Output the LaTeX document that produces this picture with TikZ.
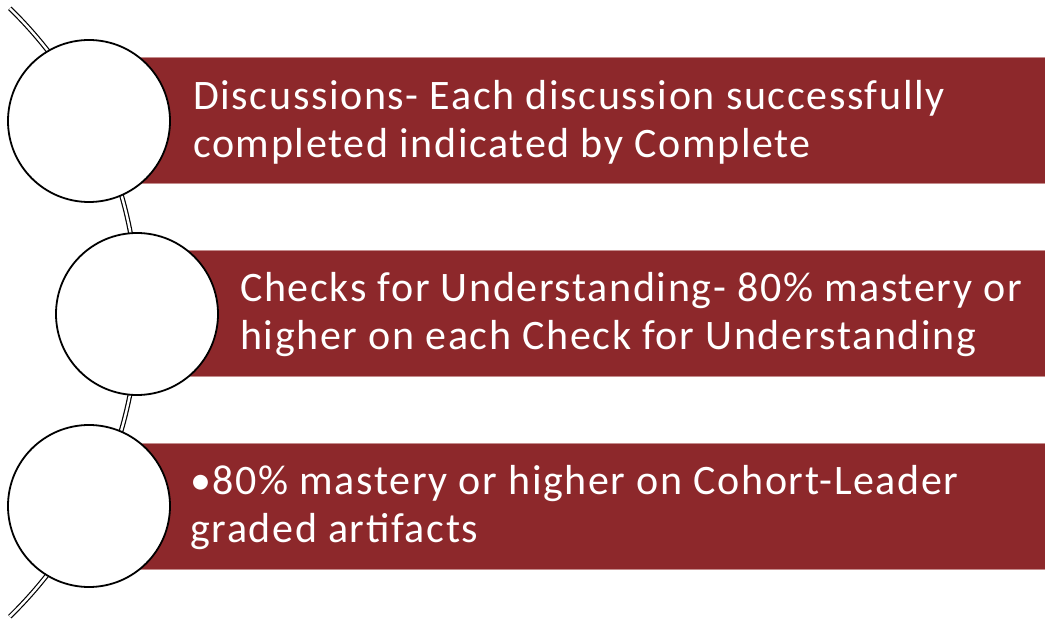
\documentclass[tikz,border=0pt]{standalone}
\usepackage{fontspec}
\setmainfont{Carlito}
\newfontfamily\bannerfont[LetterSpace=3.9]{Carlito}
\definecolor{banner}{RGB}{141,40,43}
\definecolor{bannerEdge}{RGB}{196,140,140}
\begin{document}
\begin{tikzpicture}[x=1pt,y=1pt,
  bannerbox/.style={fill=banner,draw=bannerEdge,line width=0.8pt},
  ringnode/.style={circle,fill=white,draw=black,line width=1.8pt,minimum size=162pt,inner sep=0pt},
  bannertext/.style={anchor=west,inner sep=0pt,text=white,align=left,font=\bannerfont\fontsize{42}{48}\selectfont},
  arcline/.style={draw=black,line width=1.2pt,double=white,double distance=2.4pt}]
\useasboundingbox (0,0) rectangle (1045,619);
% banners
\fill[bannerbox] (89,436) rectangle (1045,562);
\fill[bannerbox] (137,243) rectangle (1045,369);
\fill[bannerbox] (89,50) rectangle (1045,176);
% arc connector
\coordinate (arcTop) at (9.8,610.7);
\draw[arcline] (arcTop) arc[start angle=45.7,end angle=-45.7,radius=425];
% circles
\node[ringnode] (c1) at (89,498) {};
\node[ringnode] (c2) at (137,305) {};
\node[ringnode] (c3) at (89,113) {};
% texts
\node[bannertext] (t1) at (193,497) {Discussions- Each discussion successfully\\completed indicated by Complete};
\node[bannertext] (t2) at (240,304) {Checks for Understanding- 80\% mastery or\\higher on each Check for Understanding};
\node[bannertext] (t3) at (190,111) {•80\% mastery or higher on Cohort-Leader\\graded artifacts};
\end{tikzpicture}
\end{document}
